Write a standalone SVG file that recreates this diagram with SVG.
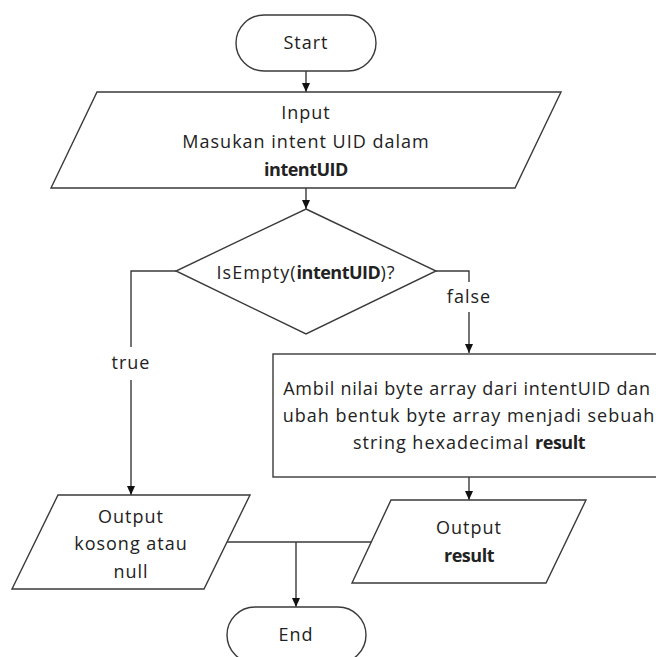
<svg xmlns="http://www.w3.org/2000/svg" width="656" height="657" viewBox="0 0 656 657">
<style>
.s{fill:#fff;stroke:#3a3a3a;stroke-width:1.4}
.c{fill:none;stroke:#3a3a3a;stroke-width:1.4}
text{font-family:"Open Sans","Liberation Sans",sans-serif;font-size:18px;fill:#222;text-anchor:middle;letter-spacing:1px}
.b{font-weight:bold;letter-spacing:-0.5px}
</style>
<defs>
<marker id="ah" markerWidth="10" markerHeight="10" refX="9" refY="5" orient="auto" markerUnits="userSpaceOnUse">
<path d="M0,1 L9,5 L0,9 Z" fill="#111"/>
</marker>
</defs>
<rect width="656" height="657" fill="#fff"/>
<g id="connectors">
<line class="c" x1="306" y1="71" x2="306" y2="92" marker-end="url(#ah)"/>
<line class="c" x1="306" y1="188" x2="306" y2="209" marker-end="url(#ah)"/>
<polyline class="c" points="176,271 131,271 131,347"/>
<line class="c" x1="131" y1="380" x2="131" y2="495" marker-end="url(#ah)"/>
<polyline class="c" points="436,271 469,271 469,282"/>
<line class="c" x1="469" y1="312" x2="469" y2="353" marker-end="url(#ah)"/>
<line class="c" x1="469" y1="477" x2="469" y2="500" marker-end="url(#ah)"/>
<line class="c" x1="227" y1="542" x2="371" y2="542"/>
<line class="c" x1="296" y1="542" x2="296" y2="607" marker-end="url(#ah)"/>
<text x="469" y="303">false</text>
<text x="131" y="369">true</text>
</g>
<g id="start">
<rect class="s" x="236" y="15" width="140" height="56" rx="28"/>
<text x="306" y="49">Start</text>
</g>
<g id="input">
<polygon class="s" points="97,92 561,92 515,188 51,188"/>
<text x="306" y="119">Input</text>
<text x="306" y="148">Masukan intent UID dalam</text>
<text x="306" y="176" class="b">intentUID</text>
</g>
<g id="decision">
<polygon class="s" points="306,209 436,271 306,334 176,271"/>
<text x="306" y="279">IsEmpty(<tspan class="b">intentUID</tspan>)?</text>
</g>
<g id="process">
<rect class="s" x="273" y="354" width="392" height="123"/>
<text x="467" y="395" style="letter-spacing:0.75px">Ambil nilai byte array dari intentUID dan</text>
<text x="469" y="422">ubah bentuk byte array menjadi sebuah</text>
<text x="469" y="449">string hexadecimal <tspan class="b">result</tspan></text>
</g>
<g id="output-null">
<polygon class="s" points="58,495 250,495 204,589 12,589"/>
<text x="131" y="523">Output</text>
<text x="131" y="550">kosong atau</text>
<text x="131" y="578">null</text>
</g>
<g id="output-result">
<polygon class="s" points="391,500 586,500 546,583 352,583"/>
<text x="469" y="534">Output</text>
<text x="469" y="562" class="b">result</text>
</g>
<g id="end">
<rect class="s" x="227" y="607" width="139" height="56" rx="28"/>
<text x="296" y="641">End</text>
</g>
</svg>
